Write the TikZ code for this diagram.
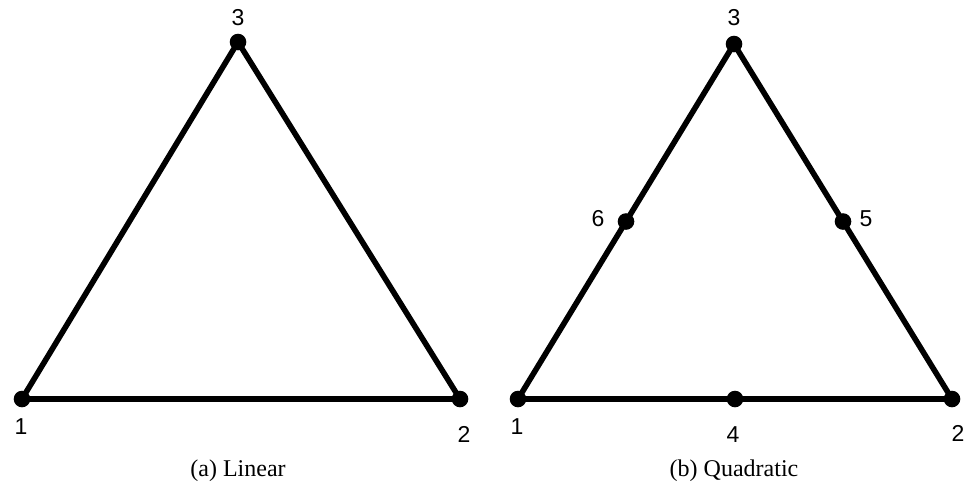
\documentclass[tikz,border=0pt]{standalone}
\usepackage{fontspec}
\setmainfont{Liberation Serif}
\setsansfont{Liberation Sans}
\usepackage{tikz}
\usetikzlibrary{positioning,calc}

\begin{document}
\begin{tikzpicture}[
          x=0.5pt,y=-0.5pt,
          every node/.style={font=\fontsize{12}{14}\selectfont},
          edge/.style={line width=2.8pt,line join=round},
          dot/.style={circle,fill=black,inner sep=0pt,minimum size=8.3pt},
          num/.style={font=\sffamily\fontsize{11.5}{13}\selectfont,inner sep=0pt},
      ]
        \useasboundingbox (0,0) rectangle (967,494);

        % (a) linear element
        \coordinate (a1) at (22,399);
        \coordinate (a2) at (460,399);
        \coordinate (a3) at (238,42);
        \draw[edge] (a1) -- (a2) -- (a3) -- cycle;
        \node[dot] (da1) at (a1) {};
        \node[dot] (da2) at (a2) {};
        \node[dot] (da3) at (a3) {};
        \node[num] (la1) at (21,427) {1};
        \node[num] (la2) at (464,434) {2};
        \node[num] (la3) at (238,18) {3};
        \node (capa) at (238,471) {(a) Linear};

        % (b) quadratic element
        \coordinate (b1) at (518,399);
        \coordinate (b2) at (952,399);
        \coordinate (b3) at (734,44);
        \coordinate (b4) at ($(b1)!0.5!(b2)$);
        \coordinate (b5) at ($(b2)!0.5!(b3)$);
        \coordinate (b6) at ($(b3)!0.5!(b1)$);
        \draw[edge] (b1) -- (b2) -- (b3) -- cycle;
        \foreach \i in {1,...,6}
          \node[dot] (db\i) at (b\i) {};
        \node[num] (lb1) at (517,427) {1};
        \node[num] (lb2) at (958,433) {2};
        \node[num] (lb3) at (734,18) {3};
        \node[num] (lb4) at (733,435) {4};
        \node[num] (lb5) at (866,219) {5};
        \node[num] (lb6) at (598,219) {6};
        \node (capb) at (734,471) {(b) Quadratic};
      \end{tikzpicture}
\end{document}
